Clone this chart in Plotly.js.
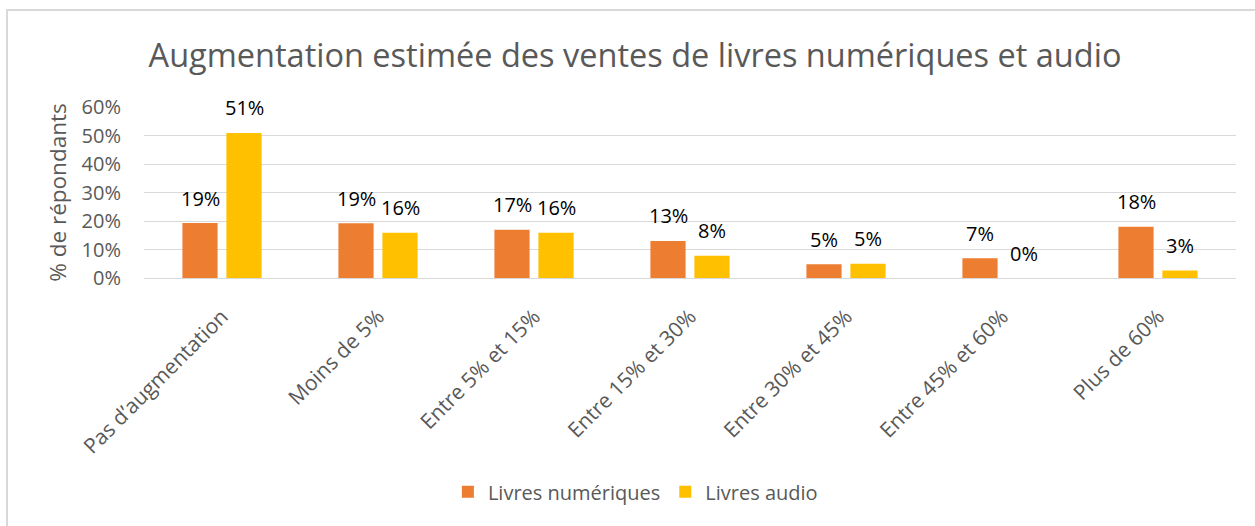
<!DOCTYPE html>
<html>
<head>
<meta charset="utf-8">
<script src="https://cdn.plot.ly/plotly-3.0.1.min.js"></script>
<style>
  html, body { margin: 0; padding: 0; background: #fff; }
  #frame { position: absolute; left: 6px; top: 9px; width: 1300px; height: 600px;
           border-left: 2px solid #d9d9d9; border-top: 2px solid #d9d9d9; box-sizing: border-box; }
  #chart { position: absolute; left: 0; top: 0; width: 1255px; height: 526px; }
</style>
</head>
<body>
<div id="frame"></div>
<div id="chart"></div>
<script>
const categories = ["Pas d’augmentation", "Moins de 5%", "Entre 5% et 15%", "Entre 15% et 30%", "Entre 30% et 45%", "Entre 45% et 60%", "Plus de 60%"];
const numeriques = [19.3, 19.2, 16.9, 13.0, 4.8, 6.9, 18.0];
const audio = [50.9, 15.9, 15.9, 7.8, 5.0, 0, 2.6];
const seriesNames = ["Livres numériques", "Livres audio"];
const yTicks = [0, 10, 20, 30, 40, 50, 60];

const gray = "#595959";
const font = "Open Sans, Noto Sans, sans-serif";

const traces = [
  { type: "bar", name: seriesNames[0], x: categories, y: numeriques, marker: { color: "#ED7D31" }, hoverinfo: "skip" },
  { type: "bar", name: seriesNames[1], x: categories, y: audio, marker: { color: "#FFC000" }, hoverinfo: "skip" }
];

const annotations = [];
[numeriques, audio].forEach((vals, si) => {
  vals.forEach((v, i) => {
    annotations.push({
      x: categories[i], y: v, xref: "x", yref: "y",
      text: Math.round(v) + "%", showarrow: false,
      xshift: si === 0 ? -22 : 22, yshift: 25, yanchor: "middle",
      font: { family: font, size: 20, color: "#000" }
    });
  });
});

const layout = {
  width: 1255, height: 526,
  paper_bgcolor: "rgba(0,0,0,0)", plot_bgcolor: "rgba(0,0,0,0)",
  margin: { l: 144, r: 19, t: 107, b: 248, pad: 0 },
  title: { text: "Augmentation estimée des ventes de livres numériques et audio",
           font: { family: font, size: 32.5, color: gray }, x: 0.506, xanchor: "center", y: 0.895, yanchor: "middle" },
  barmode: "group", bargap: 0.436, bargroupgap: 0.2,
  xaxis: {
    type: "category", tickangle: -45, ticks: "", showgrid: false,
    showline: true, linecolor: "#d9d9d9", linewidth: 1, ticklabelstandoff: 17,
    tickfont: { family: font, size: 21, color: gray }, automargin: false
  },
  yaxis: {
    range: [0, 60], tickvals: yTicks, ticktext: yTicks.map(t => t + "%"),
    showgrid: true, gridcolor: "#d9d9d9", gridwidth: 1, zeroline: false, ticks: "",
    showline: false, ticklabelstandoff: 22,
    tickfont: { family: font, size: 20, color: gray }, automargin: false,
    title: { text: "% de répondants", font: { family: font, size: 22.5, color: gray }, standoff: 8 }
  },
  showlegend: true,
  legend: { orientation: "h", x: 0.45, xanchor: "center", y: -1.25, yanchor: "middle",
            font: { family: font, size: 20, color: gray }, itemwidth: 30, traceorder: "normal" },
  annotations: annotations
};

Plotly.newPlot("chart", traces, layout, { staticPlot: true, displayModeBar: false });
</script>
</body>
</html>
